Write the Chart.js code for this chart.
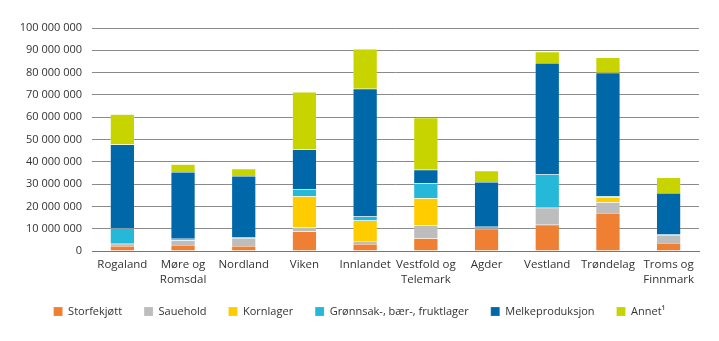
<!DOCTYPE html>
<html>
<head>
  <meta charset="utf-8" />
  <title>Fylker</title>
  <script src="https://cdn.jsdelivr.net/npm/chart.js@4.4.0/dist/chart.umd.min.js"></script>
  <style>
    html, body { margin: 0; padding: 0; background: #fff; }
    #wrap { width: 719px; height: 341px; }
  </style>
</head>
<body>
  <div id="wrap"><canvas id="chart" width="719" height="341"></canvas></div>

  <script>
    // Regions along the x axis
    const regions = [
      'Rogaland', ['Møre og', 'Romsdal'], 'Nordland', 'Viken', 'Innlandet',
      ['Vestfold og', 'Telemark'], 'Agder', 'Vestland', 'Trøndelag', ['Troms og', 'Finnmark']
    ];

    // Values per category (kroner)
    const storfekjott   = [2200000, 2700000, 2200000, 8700000, 3100000, 5700000, 10000000, 11800000, 17000000, 3600000];
    const sauehold      = [1100000, 2100000, 3600000, 2000000, 1400000, 5800000, 300000, 7600000, 4900000, 3600000];
    const kornlager     = [0, 0, 0, 13900000, 9200000, 12200000, 0, 0, 2100000, 0];
    const gronnsak      = [6900000, 700000, 200000, 3000000, 1800000, 6700000, 600000, 14900000, 500000, 200000];
    const melk          = [37600000, 29900000, 27600000, 17900000, 57300000, 6000000, 20000000, 50000000, 55400000, 18600000];
    const annet         = [13500000, 3500000, 3300000, 25800000, 17800000, 23400000, 5100000, 5100000, 6900000, 7000000];

    const yTicks = [0, 10000000, 20000000, 30000000, 40000000, 50000000, 60000000, 70000000, 80000000, 90000000, 100000000];

    const font = "'Open Sans', 'DejaVu Sans', sans-serif";

    function series(label, data, color) {
      return {
        label: label,
        data: data,
        backgroundColor: color,
        borderColor: 'rgba(255,255,255,0.35)',
        borderWidth: 0.5,
        barPercentage: 0.4,
        categoryPercentage: 1.0
      };
    }

    // space-separated thousands, e.g. 10 000 000
    function fmt(v) {
      return String(v).replace(/\B(?=(\d{3})+(?!\d))/g, ' ');
    }

    new Chart(document.getElementById('chart'), {
      type: 'bar',
      data: {
        labels: regions,
        datasets: [
          series('Storfekjøtt', storfekjott, '#EE7F33'),
          series('Sauehold', sauehold, '#BDBDBD'),
          series('Kornlager', kornlager, '#FFCC00'),
          series('Grønnsak-, bær-, fruktlager', gronnsak, '#25B8D8'),
          series('Melkeproduksjon', melk, '#0068A9'),
          series('Annet¹', annet, '#C8D400')
        ]
      },
      options: {
        responsive: false,
        animation: false,
        layout: { padding: { top: 28, right: 20, bottom: 14, left: 20 } },
        plugins: {
          tooltip: { enabled: false },
          legend: {
            position: 'bottom',
            labels: {
              font: { family: font, size: 11 },
              color: '#333',
              boxWidth: 9,
              boxHeight: 9,
              padding: 22
            }
          }
        },
        scales: {
          x: {
            stacked: true,
            afterFit: axis => { axis.height = 33; },
            grid: { display: false, drawTicks: false },
            border: { display: true, color: '#777', width: 1 },
            ticks: {
              font: { family: font, size: 11.5, lineHeight: 1.3 },
              color: '#333',
              padding: 6,
              maxRotation: 0,
              autoSkip: false
            }
          },
          y: {
            stacked: true,
            min: 0,
            max: 100000000,
            afterBuildTicks: axis => { axis.ticks = yTicks.map(v => ({ value: v })); },
            afterFit: axis => { axis.width = 72; },
            grid: { color: '#8a8a8a', lineWidth: 1, drawTicks: false },
            border: { display: false },
            ticks: {
              font: { family: font, size: 11 },
              color: '#333',
              padding: 10,
              callback: v => fmt(v)
            }
          }
        }
      }
    });
  </script>
</body>
</html>
